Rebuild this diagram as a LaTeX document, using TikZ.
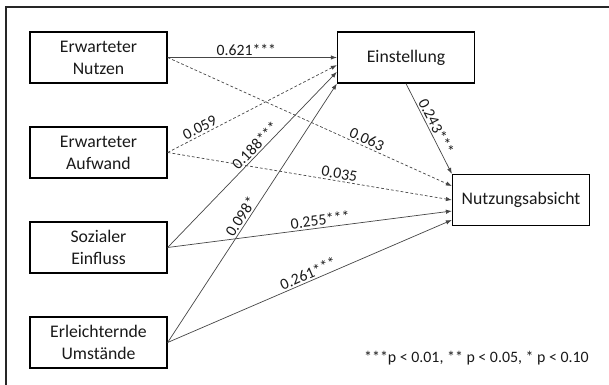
\documentclass[tikz,border=0pt]{standalone}
\usepackage{fontspec}
\setmainfont{Carlito}
\usetikzlibrary{arrows.meta}
\definecolor{umLine}{RGB}{70,70,70}
\definecolor{umText}{RGB}{25,25,25}

\begin{document}
\begin{tikzpicture}[
  construct/.style={draw=black, line width=0.9pt, minimum width=3.425cm, minimum height=1.275cm,
    align=center, text=umText, inner sep=0pt, font=\fontsize{12.6}{15.6}\selectfont},
  sig/.style={draw=umLine, line width=0.5pt, -{Latex[length=1.5mm,width=1.1mm]}},
  nsig/.style={sig, dash pattern=on 2pt off 1.5pt},
  coef/.style={font=\fontsize{11.2}{12}\selectfont, text=umText, sloped, above, inner sep=1.3pt}
]
  \useasboundingbox (0,0) rectangle (15.225,-9.625);
  % frame (cut off at right and bottom)
  \draw[line width=0.8pt, black!85] (0.15,-9.8) -- (0.15,-0.175) -- (15.4,-0.175);

  % predictors
  \node[construct] (nutzen) at (2.4625,-1.4375) {Erwarteter\\Nutzen};
  \node[construct] (aufwand) at (2.4625,-3.8125) {Erwarteter\\Aufwand};
  \node[construct] (einfluss) at (2.4625,-6.1875) {Sozialer\\Einfluss};
  \node[construct] (umstaende) at (2.4625,-8.5625) {Erleichternde\\Umstände};

  % mediator and outcome
  \node[construct] (einst) at (10.15,-1.4375) {Einstellung};
  \node[construct] (absicht) at (13.025,-5.0) {Nutzungsabsicht};

  % paths to Einstellung
  \draw[sig] (nutzen.east) -- (einst.west) node[coef, pos=0.465] {0.621***};
  \draw[nsig] (aufwand.east) -- ([yshift=-0.19cm]einst.west) node[coef, pos=0.21] {0.059};
  \draw[sig] (einfluss.east) -- ([yshift=-0.36cm]einst.west) node[coef, pos=0.55] {0.188***};
  \draw[sig] (umstaende.east) -- (einst.south west) node[coef, pos=0.47] {0.098*};

  % paths to Nutzungsabsicht
  \draw[nsig] (nutzen.east) -- ([yshift=0.35cm]absicht.west) node[coef, pos=0.69] {0.063};
  \draw[nsig] (aufwand.east) -- (absicht.west) node[coef, pos=0.60] {0.035};
  \draw[sig] (einfluss.east) -- ([yshift=-0.275cm]absicht.west) node[coef, pos=0.54] {0.255***};
  \draw[sig] (umstaende.east) -- ([yshift=-0.5cm]absicht.west) node[coef, pos=0.505] {0.261***};
  \draw[sig] (einst.south) -- (absicht.north west) node[coef, pos=0.51] {0.243***};

  % significance levels
  \node[font=\fontsize{11.3}{12}\selectfont, text=umText] (legende) at (11.9125,-8.95)
    {***p < 0.01, ** p < 0.05, * p < 0.10};
\end{tikzpicture}
\end{document}
